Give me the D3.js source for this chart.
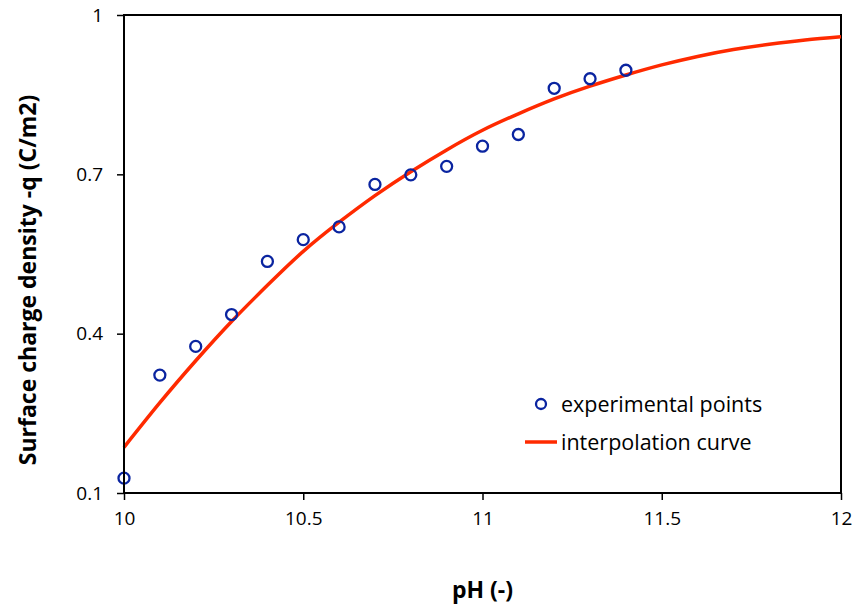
<!DOCTYPE html>
<html>
<head>
<meta charset="utf-8">
<script src="https://cdn.jsdelivr.net/npm/d3@7"></script>
<style>
	body { margin: 0; background: #fff; }
	svg text { font-family: "Open Sans", "Noto Sans", sans-serif; fill: #000; }
</style>
</head>
<body>
<div id="chart"></div>
<script>
// Experimental points
var expPH = [10.0, 10.1, 10.2, 10.3, 10.4, 10.5, 10.6, 10.7, 10.8, 10.9, 11.0, 11.1, 11.2, 11.3, 11.4];
var expQ = [0.128, 0.322, 0.376, 0.436, 0.536, 0.577, 0.601, 0.681, 0.699, 0.715, 0.753, 0.775, 0.862, 0.880, 0.896];

// Interpolation curve
var curvePH = [10.0, 10.1, 10.2, 10.3, 10.4, 10.5, 10.6, 10.7, 10.8, 10.9, 11.0, 11.1, 11.2, 11.3, 11.4, 11.5, 11.6, 11.7, 11.8, 11.9, 12.0];
var curveQ = [0.186, 0.270, 0.349, 0.423, 0.491, 0.555, 0.610, 0.660, 0.705, 0.746, 0.783, 0.814, 0.842, 0.866, 0.887, 0.906, 0.922, 0.935, 0.945, 0.953, 0.959];

// Tick labels
var xTicks = [10, 10.5, 11, 11.5, 12];
var yTicks = [0.1, 0.4, 0.7, 1];

var seriesNames = ["experimental points", "interpolation curve"];

var width = 858, height = 612;
var margin = {top: 15, right: 17, bottom: 119, left: 124};
var innerW = width - margin.left - margin.right,
		innerH = height - margin.top - margin.bottom;

var blue = "#0a24a0", red = "#ff2a00";

var svg = d3.select("#chart").append("svg")
		.attr("width", width)
		.attr("height", height);

var g = svg.append("g")
		.attr("transform", "translate(" + margin.left + "," + margin.top + ")");

var xScale = d3.scaleLinear().domain([10, 12]).range([0, innerW]);
var yScale = d3.scaleLinear().domain([0.1, 1]).range([innerH, 0]);

// Frame
g.append("rect")
		.attr("width", innerW)
		.attr("height", innerH)
		.attr("fill", "none")
		.attr("stroke", "#000")
		.attr("stroke-width", 2);

// Axes
var xAxis = d3.axisBottom(xScale).tickValues(xTicks).tickSize(7).tickPadding(12)
		.tickFormat(function(d) { return d; });
var yAxis = d3.axisLeft(yScale).tickValues(yTicks).tickSize(7).tickPadding(14)
		.tickFormat(function(d) { return d; });

g.append("g").attr("class", "x axis")
		.attr("transform", "translate(0," + innerH + ")")
		.call(xAxis);
g.append("g").attr("class", "y axis")
		.call(yAxis);

g.selectAll(".domain").remove();
g.selectAll(".tick line").attr("stroke", "#000").attr("stroke-width", 1.5);
g.selectAll(".tick text").style("font-size", "19px").attr("fill", "#000");

// Curve
var curveData = curvePH.map(function(d, i) { return {x: d, y: curveQ[i]}; });
var line = d3.line()
		.x(function(d) { return xScale(d.x); })
		.y(function(d) { return yScale(d.y); })
		.curve(d3.curveNatural);

g.append("path")
		.datum(curveData)
		.attr("d", line)
		.attr("fill", "none")
		.attr("stroke", red)
		.attr("stroke-width", 3.5);

// Points
var expData = expPH.map(function(d, i) { return {x: d, y: expQ[i]}; });
g.selectAll(".pt")
		.data(expData)
	.enter().append("circle")
		.attr("class", "pt")
		.attr("cx", function(d) { return xScale(d.x); })
		.attr("cy", function(d) { return yScale(d.y); })
		.attr("r", 5.5)
		.attr("fill", "none")
		.attr("stroke", blue)
		.attr("stroke-width", 2.3);

// Left and bottom edges drawn over the marks
g.append("line").attr("x1", 0).attr("x2", 0).attr("y1", 0).attr("y2", innerH)
		.attr("stroke", "#000").attr("stroke-width", 2);
g.append("line").attr("x1", 0).attr("x2", innerW).attr("y1", innerH).attr("y2", innerH)
		.attr("stroke", "#000").attr("stroke-width", 2);

// Legend
var legend = svg.append("g").attr("transform", "translate(525,404)");
legend.append("circle")
		.attr("cx", 16).attr("cy", 0).attr("r", 5)
		.attr("fill", "none").attr("stroke", blue).attr("stroke-width", 2.3);
legend.append("text")
		.attr("x", 36).attr("y", 0).attr("dy", "0.35em")
		.style("font-size", "21.5px")
		.text(seriesNames[0]);
legend.append("line")
		.attr("x1", 0).attr("x2", 32).attr("y1", 38).attr("y2", 38)
		.attr("stroke", red).attr("stroke-width", 3.5);
legend.append("text")
		.attr("x", 36).attr("y", 38).attr("dy", "0.35em")
		.style("font-size", "21.5px")
		.text(seriesNames[1]);

// Axis titles
svg.append("text")
		.attr("x", margin.left + innerW / 2)
		.attr("y", 598)
		.attr("text-anchor", "middle")
		.style("font-size", "23px")
		.style("font-weight", "bold")
		.text("pH (-)");

svg.append("text")
		.attr("transform", "translate(36," + 280 + ") rotate(-90)")
		.attr("text-anchor", "middle")
		.style("font-size", "23px")
		.style("font-weight", "bold")
		.text("Surface charge  density -q (C/m2)");
</script>
</body>
</html>
